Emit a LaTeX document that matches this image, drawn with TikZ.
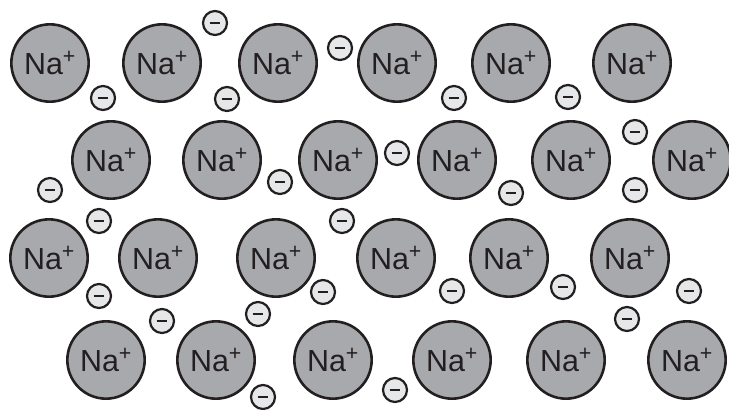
\documentclass[tikz,border=0pt]{standalone}
\usepackage{fontspec}
\setmainfont{Liberation Sans}
\usepackage{xcolor}
\usetikzlibrary{positioning}

\definecolor{ionfill}{HTML}{A7A9AC}
\definecolor{elfill}{HTML}{E6E7E8}
\definecolor{inkdark}{HTML}{231F20}

\begin{document}
\begin{tikzpicture}[x=0.03cm, y=-0.03cm,
  ion/.style={circle, draw=inkdark, fill=ionfill, line width=2.2pt,
              minimum size=2.32cm, inner sep=0pt,
              font=\fontsize{26}{30}\selectfont, text=inkdark},
  elec/.style={circle, draw=inkdark, fill=elfill, line width=1.9pt,
               minimum size=0.72cm, inner sep=0pt,
               path picture={\draw[inkdark, line width=1.5pt]
                 ([xshift=-0.16cm]path picture bounding box.center) --
                 ([xshift=0.16cm]path picture bounding box.center);}}]
\useasboundingbox (0,0) rectangle (729,409);
% sodium ions, row by row
\foreach \x/\y [count=\i] in {50/63, 162/63, 278/63, 397/63, 511/63, 632/63,
    111/160, 222/160, 338/160, 457/160, 571/160, 692/160,
    49/258, 158/258, 276/258, 396/258, 509/258, 630/258,
    106/360, 216/360, 333/360, 452/360, 566/360, 687/360}
  \node[ion] (na\i) at (\x,\y) {Na\textsuperscript{+}};
% free electrons
\foreach \x/\y [count=\i] in {215/23, 340/48, 103/98, 227/99, 454/98, 568/97,
    50/190, 280/182, 397/153, 511/193, 635/132, 635/190,
    99/221, 342/221, 99/296, 162/321, 258/314, 323/292,
    452/291, 563/287, 689/291, 627/319, 263/397, 395/390}
  \node[elec] (e\i) at (\x,\y) {};
\end{tikzpicture}
\end{document}
